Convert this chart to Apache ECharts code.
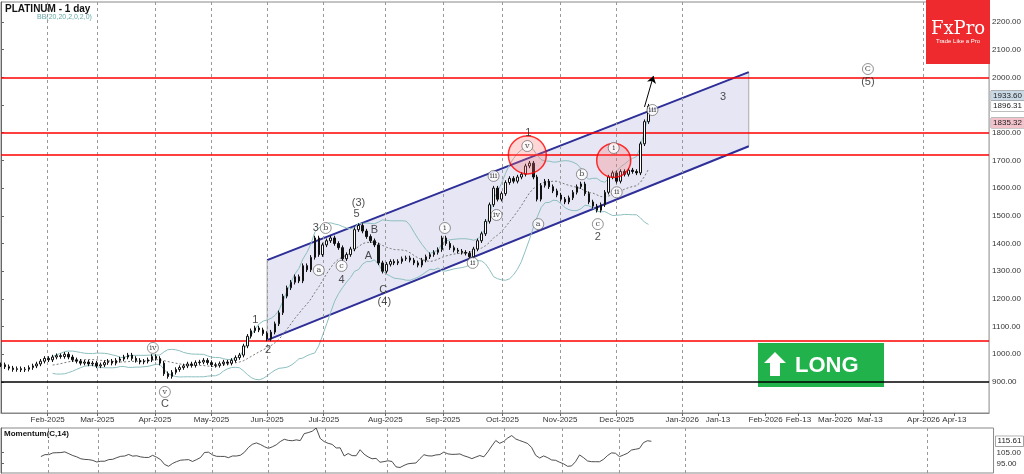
<!DOCTYPE html>
<html><head><meta charset="utf-8">
<script src="https://cdn.jsdelivr.net/npm/echarts@6/dist/echarts.min.js"></script>
<style>html,body{margin:0;padding:0;background:#fff}#c{width:1024px;height:474px}</style>
</head><body><div id="c"></div>
<script>
// closes, one bar every 4px step starting mid-Jan 2025
var closes = [962,955,950,945,948,944,946,952,958,965,975,985,980,990,995,992,1000,990,980,975,968,972,965,968,958,962,970,975,968,978,983,990,997,985,978,972,975,980,992,985,968,930,920,935,945,952,958,965,960,970,972,978,970,962,960,966,972,968,978,988,997,1030,1065,1085,1095,1088,1075,1055,1080,1110,1150,1210,1240,1260,1280,1265,1320,1305,1350,1420,1360,1395,1410,1420,1400,1385,1345,1360,1380,1450,1465,1445,1425,1410,1395,1330,1300,1325,1335,1330,1335,1345,1348,1340,1330,1322,1340,1352,1360,1368,1378,1420,1400,1385,1376,1372,1368,1365,1352,1380,1410,1435,1480,1540,1600,1560,1580,1620,1635,1625,1640,1650,1680,1690,1640,1560,1610,1625,1605,1590,1575,1560,1550,1565,1585,1605,1615,1580,1550,1535,1520,1540,1585,1640,1655,1625,1660,1650,1665,1660,1655,1760,1840,1896];
var tickPos = [11.75,24.25,38.75,53,67,81.25,96.75,111.25,126.25,140.75,155,171.5,180.5,192.5,200.75,210,218.75,232.25,240];
var tickLabels = ['Feb-2025','Mar-2025','Apr-2025','May-2025','Jun-2025','Jul-2025','Aug-2025','Sep-2025','Oct-2025','Nov-2025','Dec-2025','Jan-2026','Jan-13','Feb-2026','Feb-13','Mar-2026','Mar-13','Apr-2026','Apr-13'];
var gridPos = [11.75,24.25,38.75,53,67,81.25,96.75,111.25,126.25,140.75,155,171.5,232.25];
var priceTicks = [900,1000,1100,1200,1300,1400,1500,1600,1700,1800,1900,2000,2100,2200];
var redLevels = [2000,1800,1720,1050];
var blackLevel = 900;
var chanUpper = [[67,1340],[188.25,2019]];
var chanLower = [[67,1051],[188.25,1751]];
var redCircles = [[132.5,1720,38],[154.25,1700,34]];
var priceTags = [[1933.60,'#c9d9e6'],[1896.31,'#ffffff'],[1835.32,'#f3c3cc']];
// [x, price, text, circled]
var waveLabels = [
 [38.25,1023,'iv',1],[41.25,864,'v',1],[41.25,821,'C',0],
 [64,1124,'1',0],[67.25,1015,'2',0],
 [79.25,1456,'3',0],[81.75,1456,'b',1],[80,1304,'a',1],[85.75,1319,'c',1],[85.75,1268,'4',0],
 [90,1546,'(3)',0],[89.5,1506,'5',0],[94,1449,'B',0],[92.5,1355,'A',0],[96.25,1232,'C',0],[96.5,1189,'(4)',0],
 [111.75,1456,'i',1],[118.75,1330,'ii',1],[124,1644,'iii',1],[124.75,1503,'iv',1],
 [132.75,1799,'1',0],[132.5,1752,'v',1],[135.25,1470,'a',1],[146.25,1650,'b',1],[150.25,1470,'c',1],[150.25,1423,'2',0],
 [154.25,1745,'i',1],[155,1585,'ii',1],[164,1882,'iii',1],[181.75,1929,'3',0],[218.25,2030,'C',1],[218.25,1983,'(5)',0]
];

var ohlc = closes.map(function (c, i) {
  var o = i ? closes[i - 1] : c;
  return [i, o, c, Math.min(o, c) - 8, Math.max(o, c) + 8];
});
var P = 14, up = [], mid = [], lo = [];
closes.forEach(function (c, i) {
  if (i < P - 1) return;
  var s = closes.slice(i - P + 1, i + 1), m = s.reduce(function (a, b) { return a + b; }, 0) / P;
  var sd = Math.sqrt(s.reduce(function (a, b) { return a + (b - m) * (b - m); }, 0) / P);
  up.push([i, m + 2 * sd]); mid.push([i, m]); lo.push([i, m - 2 * sd]);
});
var mom = [];
closes.forEach(function (c, i) { if (i >= 10) mom.push([i, c / closes[i - 10] * 100]); });

var vlines = gridPos.map(function (v) { return { xAxis: v }; });
var dash = { color: '#999', type: [3, 3], width: 1 };
var chart = echarts.init(document.getElementById('c'));
chart.setOption({
  animation: false,
  grid: [
    { left: 1, right: 29, top: 2, bottom: 61, show: true, borderColor: '#888' },
    { left: 1, right: 29, top: 428, bottom: 1, show: true, borderColor: '#888' }
  ],
  xAxis: [
    { type: 'value', gridIndex: 0, min: 0, max: 248.75, splitLine: { show: false },
      axisLine: { lineStyle: { color: '#888' } },
      axisTick: { customValues: tickPos, lineStyle: { color: '#666' }, length: 3 },
      axisLabel: { customValues: tickPos, fontSize: 8, color: '#333', margin: 3, fontFamily: 'Liberation Sans',
        formatter: function (v) { var k = tickPos.indexOf(v); return k < 0 ? '' : tickLabels[k]; } } },
    { type: 'value', gridIndex: 1, min: 0, max: 248.75, show: false }
  ],
  yAxis: [
    { type: 'value', gridIndex: 0, position: 'right', min: 788, max: 2272, splitLine: { show: false },
      axisLine: { show: true, lineStyle: { color: '#666' } },
      axisTick: { customValues: priceTicks, length: 3, lineStyle: { color: '#666' } },
      axisLabel: { customValues: priceTicks, fontSize: 8, color: '#333', margin: 3, fontFamily: 'Liberation Sans',
        formatter: function (v) { return v.toFixed(2); } } },
    { type: 'value', gridIndex: 1, position: 'right', min: 86, max: 128, splitLine: { show: false },
      axisLine: { show: true, lineStyle: { color: '#666' } },
      axisTick: { customValues: [95, 105], length: 3 },
      axisLabel: { customValues: [95, 105], fontSize: 8, color: '#333', margin: 3, fontFamily: 'Liberation Sans',
        formatter: function (v) { return v.toFixed(2); } } }
  ],
  series: [
    { type: 'custom', xAxisIndex: 0, yAxisIndex: 0, data: [0], silent: true, z: 1,
      renderItem: function (p, api) {
        var pts = [api.coord(chanUpper[0]), api.coord(chanUpper[1]), api.coord(chanLower[1]), api.coord(chanLower[0])];
        return { type: 'polygon', shape: { points: pts }, style: { fill: 'rgba(200,200,230,0.45)', stroke: '#aaa', lineWidth: 1 } };
      } },
    { type: 'line', data: chanUpper, symbol: 'none', lineStyle: { color: '#2f2f99', width: 2 }, z: 3,
      markLine: { silent: true, symbol: 'none', label: { show: false }, lineStyle: dash, data: vlines } },
    { type: 'line', data: chanLower, symbol: 'none', lineStyle: { color: '#2f2f99', width: 2 }, z: 3,
      markLine: { silent: true, symbol: 'none', label: { show: false },
        data: redLevels.map(function (v) { return { yAxis: v, lineStyle: { color: '#f00', width: 1.5, type: 'solid' } }; })
          .concat([{ yAxis: blackLevel, lineStyle: { color: '#000', width: 1.5, type: 'solid' } }]) } },
    { type: 'line', data: up, symbol: 'none', lineStyle: { color: '#8cbfc0', width: 1 }, z: 4 },
    { type: 'line', data: lo, symbol: 'none', lineStyle: { color: '#8cbfc0', width: 1 }, z: 4 },
    { type: 'line', data: mid, symbol: 'none', lineStyle: { color: '#777', width: 1, type: [2, 2] }, z: 4 },
    { type: 'candlestick', data: ohlc, encode: { x: 0, y: [1, 2, 3, 4] }, barWidth: 2, z: 5,
      itemStyle: { color: '#fff', color0: '#111', borderColor: '#111', borderColor0: '#111', borderWidth: 1 },
      markLine: { silent: true, symbol: ['none', 'none'],
        data: priceTags.map(function (t) {
          return { yAxis: t[0], lineStyle: { width: 0 },
            label: { show: true, position: 'end', formatter: t[0].toFixed(2), fontSize: 8, color: '#222', distance: 2,
              backgroundColor: t[1], borderColor: '#888', borderWidth: 0.5, padding: [1, 2], fontFamily: 'Liberation Sans' } };
        }).concat([[{ coord: [162, 1893], symbol: 'none' }, { coord: [164.25, 2005], symbol: 'arrow', symbolSize: 7 }]].map(function (a) {
          a[0].lineStyle = { color: '#000', width: 1, type: 'solid' }; a[0].label = { show: false }; return a; })) } },
    { type: 'scatter', data: redCircles.map(function (c) { return { value: [c[0], c[1]], symbolSize: c[2] }; }), z: 6,
      itemStyle: { color: 'rgba(255,110,110,0.35)', borderColor: '#f00', borderWidth: 1.5 } },
    { type: 'scatter', z: 7,
      data: waveLabels.map(function (w) {
        return { value: [w[0], w[1]], symbolSize: w[3] ? 11 : 0,
          itemStyle: { color: '#fff', borderColor: '#555', borderWidth: 0.8 },
          label: { show: true, position: 'inside', formatter: w[2], color: '#222',
            fontSize: w[3] ? 8 : 11, fontFamily: w[3] ? 'DejaVu Serif' : 'Liberation Sans' } };
      }) },
    { type: 'line', xAxisIndex: 1, yAxisIndex: 1, data: mom, symbol: 'none', lineStyle: { color: '#222', width: 0.8 },
      markLine: { silent: true, symbol: 'none', lineStyle: dash,
        data: vlines.map(function (v) { return { xAxis: v.xAxis, label: { show: false } }; })
          .concat([{ yAxis: mom[mom.length - 1][1], lineStyle: { width: 0 },
            label: { position: 'end', distance: 2, fontSize: 8, color: '#222', backgroundColor: '#fff', borderColor: '#555',
              borderWidth: 0.5, padding: [1, 2], formatter: function (p) { return p.value.toFixed(2); } } }]) } }
  ],
  graphic: [
    { type: 'text', left: 5, top: 4, style: { text: 'PLATINUM - 1 day', font: 'bold 10px Liberation Sans', fill: '#111' } },
    { type: 'text', left: 37, top: 14, style: { text: 'BB(20,20,2,0,2,0)', font: '7px Liberation Sans', fill: '#6aa8aa' } },
    { type: 'text', left: 4, top: 430, style: { text: 'Momentum(C,14)', font: 'bold 8px Liberation Sans', fill: '#111' } },
    { type: 'rect', shape: { x: 926, y: 0, width: 64, height: 64 }, style: { fill: '#ee2a2e' } },
    { type: 'text', x: 958, y: 29, style: { text: 'FxPro', font: '18px DejaVu Serif', fill: '#fff', align: 'center', verticalAlign: 'middle' } },
    { type: 'text', x: 958, y: 41, style: { text: 'Trade Like a Pro', font: '6px Liberation Sans', fill: '#fff', align: 'center', verticalAlign: 'middle' } },
    { type: 'rect', shape: { x: 758, y: 343, width: 126, height: 44 }, style: { fill: '#22b24c' } },
    { type: 'polygon', shape: { points: [[775, 352], [786, 363], [780, 363], [780, 376], [770, 376], [770, 363], [764, 363]] }, style: { fill: '#fff' } },
    { type: 'text', x: 795, y: 366, style: { text: 'LONG', font: 'bold 22px Liberation Sans', fill: '#fff', verticalAlign: 'middle' } }
  ]
});
</script></body></html>
